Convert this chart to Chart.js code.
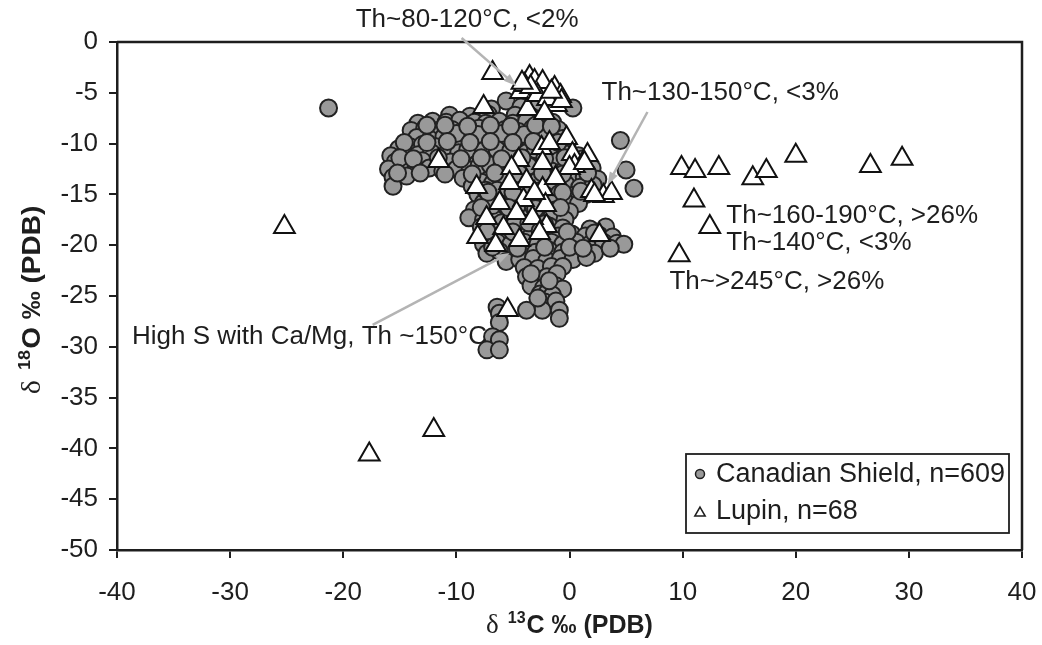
<!DOCTYPE html>
<html>
<head>
<meta charset="utf-8">
<script src="https://cdn.jsdelivr.net/npm/chart.js@4"></script>
<style>
  html, body { margin: 0; padding: 0; background: #fff; }
  #wrap { width: 1042px; height: 645px; }
</style>
</head>
<body>
<div id="wrap"><canvas id="isoChart"></canvas></div>
<script>
// δ13C / δ18O (‰ PDB) of carbonates
const xTicks = [-40, -30, -20, -10, 0, 10, 20, 30, 40];
const yTicks = [0, -5, -10, -15, -20, -25, -30, -35, -40, -45, -50];

const seriesNames = ['Canadian Shield, n=609', 'Lupin, n=68'];

// Canadian Shield compilation, [δ13C, δ18O]
const shieldPoints = [
  [-21.3, -6.5],
  [-5.6, -5.8], [-4.3, -6.4], [-3.0, -6.6], [0.3, -6.5], [-6.9, -6.6],
  [-10.6, -7.2], [-8.8, -7.3], [-7.2, -7.1], [-4.8, -7.2], [-3.4, -7.3], [-2.2, -7.4],
  [-13.4, -8.0], [-12.1, -7.8], [-10.9, -7.9], [-9.7, -7.7], [-8.4, -7.9], [-7.4, -8.0],
  [-6.2, -7.8], [-5.0, -8.0], [-3.8, -7.8], [-2.6, -8.0], [-1.5, -7.9],
  [-14.0, -8.7], [-12.8, -8.5], [-11.6, -8.7], [-10.4, -8.6], [-9.2, -8.8], [-8.0, -8.5],
  [-6.9, -8.7], [-5.7, -8.6], [-4.5, -8.8], [-3.3, -8.5], [-2.1, -8.7], [-1.0, -8.6],
  [-13.5, -9.4], [-12.3, -9.6], [-11.1, -9.3], [-9.9, -9.5], [-8.7, -9.4], [-7.5, -9.6],
  [-6.3, -9.3], [-5.1, -9.5], [-3.9, -9.4], [-2.7, -9.6], [-1.6, -9.3], [-0.6, -9.5], [4.5, -9.7],
  [-15.1, -10.5], [-14.1, -10.3], [-13.0, -10.1], [-11.8, -10.3], [-10.6, -10.2], [-9.4, -10.0],
  [-8.2, -10.3], [-7.0, -10.1], [-5.8, -10.3], [-4.6, -10.2], [-3.4, -10.0], [-2.3, -10.3],
  [-1.2, -10.1], [-0.2, -10.4],
  [-15.8, -11.2], [-14.6, -11.0], [-13.4, -11.1], [-12.2, -10.9], [-11.0, -11.1], [-9.8, -10.9],
  [-8.6, -11.0], [-7.4, -11.2], [-6.2, -10.9], [-5.0, -11.1], [-3.8, -10.9], [-2.6, -11.1],
  [-1.5, -10.8], [-0.4, -11.0], [0.8, -11.2],
  [-15.4, -11.8], [-14.2, -11.9], [-13.0, -11.7], [-11.7, -11.9], [-10.5, -11.8], [-9.3, -11.6],
  [-8.1, -11.9], [-6.9, -11.7], [-5.7, -11.9], [-4.5, -11.8], [-3.3, -11.6], [-2.1, -11.9],
  [-1.0, -11.7], [0.2, -11.9], [1.4, -11.7], [5.0, -12.6],
  [-16.0, -12.5], [-14.8, -12.7], [-13.6, -12.6], [-12.4, -12.4], [-11.2, -12.7], [-10.0, -12.5],
  [-8.8, -12.6], [-7.6, -12.4], [-6.4, -12.7], [-5.2, -12.5], [-4.0, -12.6], [-2.8, -12.4],
  [-1.6, -12.7], [-0.4, -12.5], [0.9, -12.6], [2.0, -12.4],
  [-15.6, -13.3], [-14.4, -13.2], [-9.4, -13.4], [-8.3, -13.3], [-7.1, -13.5], [-5.9, -13.3],
  [-4.7, -13.5], [-3.5, -13.3], [-2.3, -13.5], [-1.1, -13.3], [0.1, -13.5], [1.3, -13.3], [2.5, -13.5],
  [-15.6, -14.2], [-8.6, -14.2], [-7.5, -14.0], [-6.3, -14.3], [-5.1, -14.1], [-3.9, -14.3],
  [-2.7, -14.0], [-1.5, -14.2], [-0.3, -14.0], [0.9, -14.3], [2.1, -14.1], [5.7, -14.4],
  [-8.1, -15.0], [-6.9, -15.2], [-5.7, -14.9], [-4.5, -15.1], [-3.3, -14.9], [-2.1, -15.1],
  [-0.9, -14.9], [0.3, -15.1], [1.5, -15.0],
  [-7.6, -15.8], [-6.4, -15.9], [-5.2, -15.7], [-4.0, -15.9], [-2.8, -15.7], [-1.6, -15.9],
  [-0.4, -15.7], [0.8, -15.9],
  [-8.4, -16.5], [-7.2, -16.7], [-6.0, -16.5], [-4.8, -16.7], [-3.6, -16.5], [-2.4, -16.7],
  [-1.2, -16.5], [0.0, -16.7],
  [-8.9, -17.3], [-7.6, -17.5], [-6.4, -17.3], [-5.2, -17.5], [-4.0, -17.3], [-2.8, -17.5],
  [-1.6, -17.3], [-0.4, -17.5],
  [-7.8, -18.2], [-6.6, -18.1], [-5.4, -18.3], [-4.2, -18.1], [-3.0, -18.3], [-1.8, -18.1],
  [-0.6, -18.3], [1.8, -18.4], [3.2, -18.2],
  [-7.0, -19.0], [-5.8, -19.1], [-4.6, -18.9], [-3.4, -19.1], [-2.2, -18.9], [-1.0, -19.1],
  [0.2, -18.9], [1.4, -19.1], [2.6, -19.0], [3.8, -19.2],
  [-7.6, -19.9], [-6.4, -19.7], [-5.2, -19.9], [-4.0, -19.7], [-2.8, -19.9], [-1.6, -19.7],
  [-0.6, -19.9], [0.6, -19.7], [1.8, -19.9], [3.0, -19.7], [4.2, -19.8], [4.8, -19.9],
  [-7.3, -20.8], [-6.2, -20.6], [-4.2, -20.5], [-3.0, -20.7], [-1.8, -20.5], [-0.6, -20.7],
  [0.6, -20.5], [2.2, -20.8],
  [-5.6, -21.6], [-4.4, -21.4], [-3.2, -21.3], [-2.0, -21.5], [-0.8, -21.3], [0.3, -21.4], [1.5, -21.2],
  [-4.0, -22.2], [-2.8, -22.3], [-1.6, -22.1], [-0.6, -22.1],
  [-3.8, -23.1], [-2.9, -23.7], [-2.0, -23.1], [-1.1, -22.8],
  [-3.4, -24.0], [-2.3, -24.2], [-1.2, -24.0], [-0.6, -24.3],
  [-2.6, -24.8], [-2.0, -24.7], [-1.5, -24.9],
  [-2.2, -25.6], [-1.2, -25.5],
  [-2.4, -26.4], [-0.9, -26.4], [-3.8, -26.4],
  [-0.9, -27.2],
  [-6.4, -26.1], [-6.2, -26.7], [-6.2, -27.6], [-6.8, -29.0], [-6.2, -29.3], [-7.3, -30.3], [-6.2, -30.3],
  // dense core
  [-10.0, -9.0], [-8.1, -9.1], [-6.0, -9.0], [-4.0, -9.1], [-2.0, -9.0],
  [-9.0, -10.6], [-7.6, -10.7], [-6.4, -10.6], [-5.2, -10.7], [-3.0, -10.6],
  [-8.0, -12.2], [-7.0, -12.1], [-6.0, -12.2], [-5.0, -12.1], [-3.6, -12.2],
  [-7.8, -13.8], [-6.8, -13.9], [-5.6, -13.8], [-4.4, -13.9], [-3.0, -13.8],
  [-7.4, -14.6], [-6.4, -14.6], [-5.4, -14.5], [-4.0, -14.6],
  [-6.8, -16.1], [-5.6, -16.2], [-4.6, -16.1], [-3.2, -16.2],
  [-6.0, -17.8], [-4.8, -17.9], [-3.6, -17.8], [-2.2, -17.9],
  [-12.6, -8.2], [-11.0, -8.2], [-9.0, -8.3], [-7.0, -8.2], [-5.2, -8.3], [-3.0, -8.2], [-1.6, -8.3],
  [-14.6, -9.9], [-12.6, -9.9], [-10.8, -9.8], [-8.8, -9.9], [-7.0, -9.8], [-5.0, -9.9],
  [-3.2, -9.8], [-1.0, -9.9],
  [-15.0, -11.4], [-13.8, -11.5], [-11.6, -11.4], [-9.6, -11.5], [-7.8, -11.4], [-6.0, -11.5],
  [-4.2, -11.4], [-2.2, -11.5], [-0.4, -11.4], [1.2, -11.5],
  [-15.2, -12.9], [-13.2, -12.9], [-11.0, -13.0], [-8.6, -13.0], [-6.6, -12.9], [-4.4, -13.0],
  [-2.4, -12.9], [-0.6, -13.0], [1.6, -12.9],
  [-7.2, -14.8], [-5.0, -14.8], [-2.8, -14.7], [-0.6, -14.8], [1.0, -14.7],
  [-7.8, -16.3], [-5.4, -16.3], [-3.0, -16.4], [-0.8, -16.3],
  [-7.3, -18.6], [-5.0, -18.7], [-2.6, -18.6], [-0.2, -18.7], [2.2, -18.8],
  [-6.8, -20.2], [-4.6, -20.3], [-2.2, -20.2], [0.0, -20.2], [1.2, -20.3], [3.6, -20.3],
  [-3.4, -22.8], [-1.8, -23.5], [-2.8, -25.2]
];

// Lupin samples, [δ13C, δ18O]
const lupinPoints = [
  [-6.8, -3.06], [-3.53, -3.45], [-3.09, -3.84], [-2.38, -3.94], [-4.33, -4.93], [-1.32, -4.53],
  [-0.79, -5.32], [-1.15, -6.21], [-3.71, -6.6], [-7.59, -6.4], [-0.26, -9.45], [0.26, -11.03],
  [1.59, -11.13], [0.44, -12.21], [-2.47, -10.44], [-11.57, -11.72], [-4.5, -11.62], [-2.38, -11.91],
  [0.0, -12.41], [-8.21, -14.28], [-3.8, -13.69], [-2.38, -14.47], [-4.06, -15.56], [-2.12, -16.05],
  [1.94, -14.67], [3.0, -15.16], [-4.68, -16.84], [-5.83, -18.31], [-2.03, -18.11], [-8.12, -19.2],
  [-6.53, -19.99], [-4.42, -19.49], [2.65, -19.0], [-5.47, -26.38], [3.71, -14.87],
  [-25.2, -18.2], [-17.7, -40.6], [-12.0, -38.2], [9.9, -12.4], [11.1, -12.7], [13.2, -12.4],
  [16.2, -13.4], [17.4, -12.7], [20.0, -11.2], [26.6, -12.2], [29.4, -11.5], [11.0, -15.6],
  [12.4, -18.2], [9.7, -21.0],
  [-3.97, -4.24], [-2.83, -5.22], [-1.94, -5.61], [-0.71, -5.81], [-3.44, -4.43], [-1.77, -9.95],
  [-5.12, -12.41], [-3.09, -14.87], [-1.24, -13.39], [-6.18, -15.85], [-3.27, -17.33], [-7.33, -17.33],
  [2.21, -15.06], [-2.65, -18.8], [1.32, -11.91], [-5.3, -13.88], [-2.21, -6.99], [-4.2, -4.0], [-1.6, -4.9]
];

// callouts: text, anchor (left, middle) and optional arrow from -> to
const notes = [
  { text: 'Th~80-120°C, <2%', at: [-18.9, 2.17], arrow: [[-9.54, 0.39], [-4.68, -4.33]] },
  { text: 'Th~130-150°C, <3%', at: [2.83, -5.02], arrow: [[6.89, -6.89], [3.36, -14.07]] },
  { text: 'Th~160-190°C, >26%', at: [13.86, -17.13] },
  { text: 'Th~140°C, <3%', at: [13.86, -19.78] },
  { text: 'Th~>245°C, >26%', at: [8.83, -23.62] },
  { text: 'High S with Ca/Mg, Th ~150°C', at: [-38.68, -29.04], arrow: [[-17.4, -27.85], [-5.3, -20.77]] }
];

const SANS = '"Liberation Sans", Arial, sans-serif';
const INK = '#1e1e1e';
const SHIELD_FILL = '#999999';

function drawArrow(ctx, x1, y1, x2, y2) {
  const ang = Math.atan2(y2 - y1, x2 - x1);
  const len = 13, half = 4.5;
  ctx.beginPath();
  ctx.moveTo(x1, y1);
  ctx.lineTo(x2 - Math.cos(ang) * len * 0.8, y2 - Math.sin(ang) * len * 0.8);
  ctx.stroke();
  ctx.beginPath();
  ctx.moveTo(x2, y2);
  ctx.lineTo(x2 - Math.cos(ang) * len - Math.sin(ang) * half, y2 - Math.sin(ang) * len + Math.cos(ang) * half);
  ctx.lineTo(x2 - Math.cos(ang) * len + Math.sin(ang) * half, y2 - Math.sin(ang) * len - Math.cos(ang) * half);
  ctx.closePath();
  ctx.fill();
}

// δ, superscript mass number, then the rest in bold
function drawIsoTitle(ctx, mass, rest, cx, baseY) {
  const fDelta = '27px "Liberation Serif", "DejaVu Serif", serif';
  const fSup = 'bold 16px ' + SANS;
  const fMain = 'bold 25px ' + SANS;
  ctx.font = fDelta;
  const wD = ctx.measureText('δ').width + 9;
  ctx.font = fSup;
  const wS = ctx.measureText(mass).width + 1;
  ctx.font = fMain;
  const wM = ctx.measureText(rest).width;
  let x = cx - (wD + wS + wM) / 2;
  ctx.textAlign = 'left';
  ctx.textBaseline = 'alphabetic';
  ctx.font = fDelta;
  ctx.fillText('δ', x, baseY);
  x += wD;
  ctx.font = fSup;
  ctx.fillText(mass, x, baseY - 10);
  x += wS;
  ctx.font = fMain;
  ctx.fillText(rest, x, baseY);
}

const decorations = {
  id: 'decorations',
  beforeDatasetsDraw(chart) {
    const { ctx, chartArea: a } = chart;
    ctx.save();
    ctx.strokeStyle = INK;
    ctx.lineWidth = 2.5;
    ctx.beginPath();
    ctx.moveTo(a.left, a.top);
    ctx.lineTo(a.right, a.top);
    ctx.lineTo(a.right, a.bottom);
    ctx.stroke();
    ctx.restore();
  },
  afterDatasetsDraw(chart) {
    const { ctx, scales: { x, y } } = chart;
    ctx.save();
    ctx.strokeStyle = '#b4b4b4';
    ctx.fillStyle = '#b4b4b4';
    ctx.lineWidth = 2.5;
    notes.forEach(n => {
      if (!n.arrow) return;
      const [p, q] = n.arrow;
      drawArrow(ctx, x.getPixelForValue(p[0]), y.getPixelForValue(p[1]),
        x.getPixelForValue(q[0]), y.getPixelForValue(q[1]));
    });
    ctx.fillStyle = INK;
    ctx.font = '26px ' + SANS;
    ctx.textAlign = 'left';
    ctx.textBaseline = 'middle';
    notes.forEach(n => {
      ctx.fillText(n.text, x.getPixelForValue(n.at[0]), y.getPixelForValue(n.at[1]));
    });
    ctx.restore();
  },
  afterDraw(chart) {
    const { ctx, chartArea: a } = chart;
    ctx.save();
    ctx.fillStyle = INK;
    drawIsoTitle(ctx, '13', 'C ‰ (PDB)', (a.left + a.right) / 2, 633);
    ctx.translate(40, 300);
    ctx.rotate(-Math.PI / 2);
    ctx.scale(1.12, 1);
    drawIsoTitle(ctx, '18', 'O ‰ (PDB)', 0, 0);
    ctx.restore();

    // legend box in the lower right corner of the plot
    const bx = a.right - 336, by = a.bottom - 96, bw = 323, bh = 79;
    ctx.save();
    ctx.fillStyle = '#fff';
    ctx.fillRect(bx, by, bw, bh);
    ctx.strokeStyle = INK;
    ctx.lineWidth = 1.8;
    ctx.strokeRect(bx, by, bw, bh);
    ctx.lineWidth = 1.5;
    ctx.beginPath();
    ctx.arc(bx + 14, by + 20, 4.5, 0, Math.PI * 2);
    ctx.fillStyle = SHIELD_FILL;
    ctx.fill();
    ctx.stroke();
    const tx = bx + 14, ty = by + 59, r = 6;
    ctx.beginPath();
    ctx.moveTo(tx, ty - r);
    ctx.lineTo(tx + r * 0.866, ty + r / 2);
    ctx.lineTo(tx - r * 0.866, ty + r / 2);
    ctx.closePath();
    ctx.fillStyle = '#fff';
    ctx.fill();
    ctx.stroke();
    ctx.fillStyle = INK;
    ctx.font = '27px ' + SANS;
    ctx.textAlign = 'left';
    ctx.textBaseline = 'middle';
    ctx.fillText(seriesNames[0], bx + 30, by + 21);
    ctx.fillText(seriesNames[1], bx + 30, by + 58);
    ctx.restore();
  }
};

const tickFont = { family: SANS, size: 26 };

new Chart(document.getElementById('isoChart'), {
  type: 'scatter',
  data: {
    datasets: [
      {
        label: seriesNames[0],
        data: shieldPoints.map(([c, o]) => ({ x: c, y: o })),
        pointStyle: 'circle',
        pointRadius: 8.5,
        backgroundColor: SHIELD_FILL,
        borderColor: '#222',
        borderWidth: 2,
        order: 2
      },
      {
        label: seriesNames[1],
        data: lupinPoints.map(([c, o]) => ({ x: c, y: o })),
        pointStyle: 'triangle',
        pointRadius: 12,
        backgroundColor: '#ffffff',
        borderColor: '#111',
        borderWidth: 2,
        order: 1
      }
    ]
  },
  options: {
    responsive: true,
    maintainAspectRatio: false,
    animation: false,
    layout: { padding: { top: 42, right: 20, left: 0, bottom: 0 } },
    plugins: {
      legend: { display: false },
      tooltip: { enabled: false }
    },
    scales: {
      x: {
        type: 'linear',
        min: xTicks[0],
        max: xTicks[xTicks.length - 1],
        afterFit: s => {
          s.height = 95;
          s.paddingLeft = 0;
          s.paddingRight = 0;
        },
        afterBuildTicks: s => { s.ticks = xTicks.map(v => ({ value: v })); },
        ticks: { font: tickFont, color: INK, padding: 19, autoSkip: false, maxRotation: 0 },
        grid: { drawOnChartArea: false, drawTicks: true, tickLength: 8, color: INK, lineWidth: 2 },
        border: { display: true, color: INK, width: 2.5 }
      },
      y: {
        type: 'linear',
        min: yTicks[yTicks.length - 1],
        max: yTicks[0],
        afterFit: s => { s.width = 117; },
        afterBuildTicks: s => { s.ticks = yTicks.map(v => ({ value: v })); },
        ticks: { font: tickFont, color: INK, padding: 11, autoSkip: false },
        grid: { drawOnChartArea: false, drawTicks: true, tickLength: 8, color: INK, lineWidth: 2 },
        border: { display: true, color: INK, width: 2.5 }
      }
    }
  },
  plugins: [decorations]
});
</script>
</body>
</html>
